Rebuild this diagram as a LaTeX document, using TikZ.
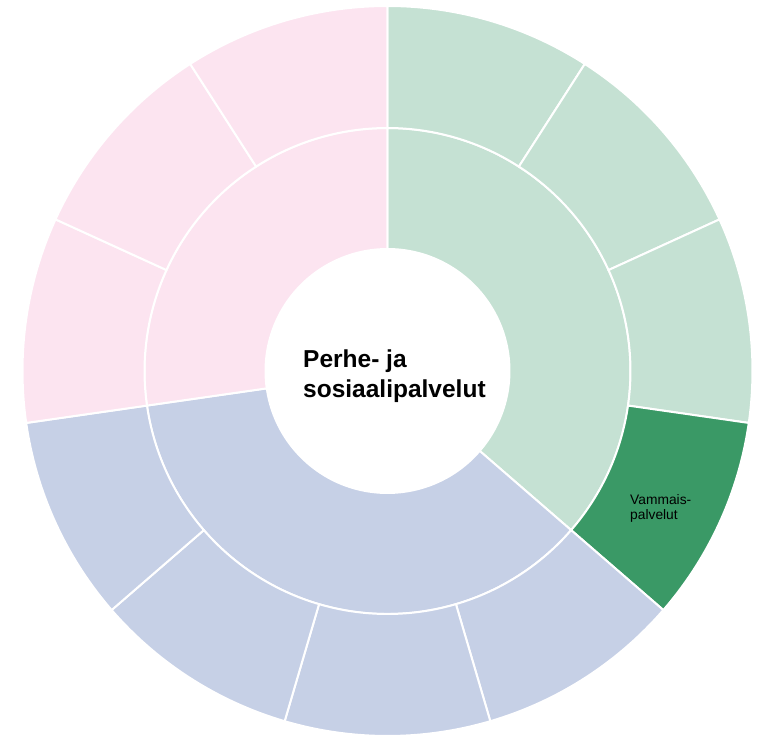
\documentclass[tikz,border=0pt]{standalone}
\usepackage{fontspec}
\setmainfont{Liberation Sans}

\definecolor{pinkfill}{RGB}{252,228,240}
\definecolor{greenfill}{RGB}{197,225,211}
\definecolor{bluefill}{RGB}{198,208,230}
\definecolor{darkgreen}{RGB}{58,153,102}

\tikzset{
    segment/.style={draw=white, line width=2pt},
    titletext/.style={font=\bfseries\fontsize{24.5}{30}\selectfont, align=left, inner sep=0pt},
    leaftext/.style={font=\fontsize{13.8}{15.5}\selectfont, align=left, inner sep=0pt}
}

\newcommand{\ringpart}[5]{% colour, start, end, inner radius, outer radius
    \pgfmathsetmacro{\angfrom}{#2}
    \pgfmathsetmacro{\angto}{#3}
    \filldraw[segment, fill=#1] (\angfrom:#4) arc[start angle=\angfrom, end angle=\angto, radius=#4]
        -- (\angto:#5) arc[start angle=\angto, end angle=\angfrom, radius=#5] -- cycle;
}

\begin{document}
\begin{tikzpicture}[x=1pt, y=1pt]

        % Frame
        \useasboundingbox (-387.5,-366) rectangle (376.5,371);

        % Inner ring
        \pgfmathsetmacro{\stepang}{360/11}
        \ringpart{greenfill}{90}{90-4*\stepang}{122}{243}
        \ringpart{bluefill}{90-4*\stepang}{90-8*\stepang}{122}{243}
        \ringpart{pinkfill}{90-8*\stepang}{90-11*\stepang}{122}{243}

        % Outer ring
        \foreach \i/\col in {0/greenfill, 1/greenfill, 2/greenfill, 3/darkgreen,
                             4/bluefill, 5/bluefill, 6/bluefill, 7/bluefill,
                             8/pinkfill, 9/pinkfill, 10/pinkfill} {
            \ringpart{\col}{90-\i*\stepang}{90-(\i+1)*\stepang}{243}{365}
        }

        % Labels
        \node[titletext, anchor=north west] (title) at (-84.5,21.5) {Perhe- ja\\sosiaalipalvelut};
        \node[leaftext, anchor=north west] (vammais) at (242.5,-123) {Vammais-\\palvelut};

    \end{tikzpicture}
\end{document}
